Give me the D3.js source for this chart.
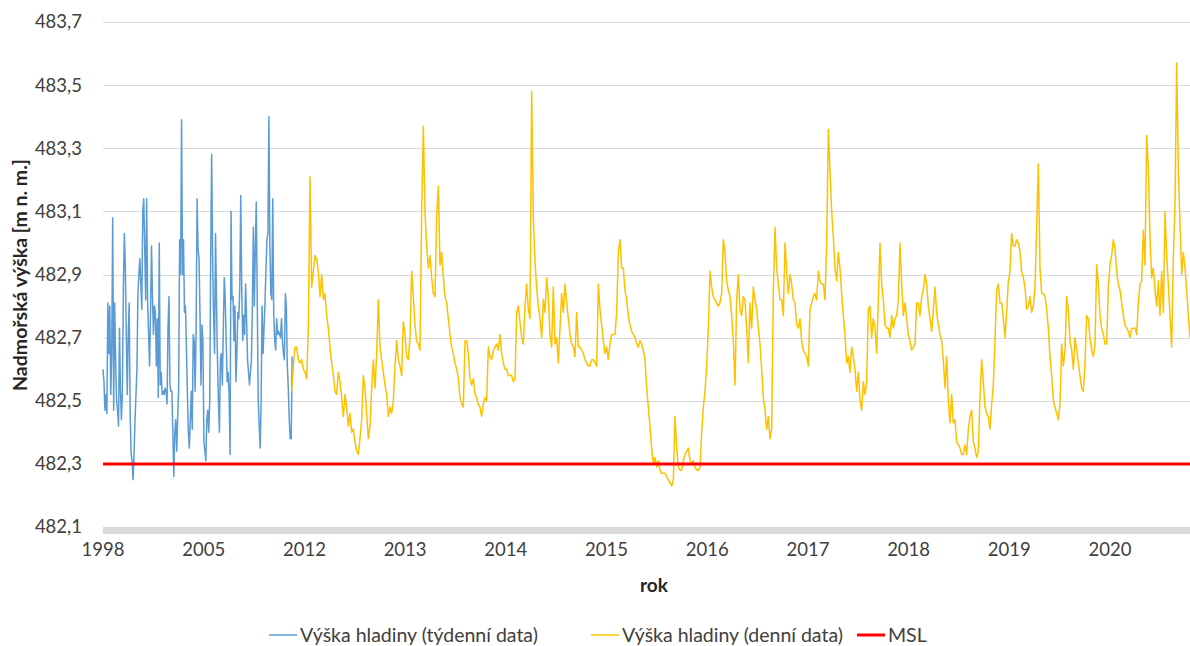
<!DOCTYPE html>
<html>
<head>
<meta charset="utf-8">
<script src="https://cdn.jsdelivr.net/npm/d3@7"></script>
<style>
  body { margin: 0; background: #fff; }
  text { font-family: Lato, "Open Sans", sans-serif; fill: #404040; }
</style>
</head>
<body>
<svg id="chart" width="1190" height="646"></svg>
<script>
// Axis values
const yTicks = [482.1, 482.3, 482.5, 482.7, 482.9, 483.1, 483.3, 483.5, 483.7];
const xLabels = ["1998", "2005", "2012", "2013", "2014", "2015", "2016", "2017", "2018", "2019", "2020"];
const labelEvery = 60.42;      // category slots between two labels
const totalSlots = 652.2;      // category slots on the axis
const weeklyEndSlot = 113.5;   // weekly series is spread over slots 0..this
const dailyStartSlot = 113.2;  // first daily value

const msl = 482.3;

// weekly water level 1998-2011 (blue)
const weekly = [
  482.60, 482.56, 482.47, 482.52, 482.46, 482.81, 482.65, 482.80, 482.52, 482.65,
  483.08, 482.47, 482.81, 482.63, 482.50, 482.47, 482.42, 482.73, 482.53, 482.44,
  482.53, 482.85, 483.03, 482.93, 482.71, 482.52, 482.71, 482.81, 482.46, 482.33,
  482.31, 482.25, 482.33, 482.44, 482.52, 482.60, 482.84, 482.90, 482.95, 482.87,
  482.79, 483.10, 483.14, 482.98, 482.82, 483.14, 482.81, 482.71, 482.61, 482.78,
  482.99, 482.83, 482.71, 482.80, 482.78, 482.61, 482.76, 482.51, 483.00, 482.55,
  482.59, 482.52, 482.53, 482.52, 482.54, 482.53, 482.49, 482.73, 482.83, 482.55,
  482.53, 482.53, 482.40, 482.26, 482.40, 482.44, 482.34, 482.45, 482.54, 483.01,
  482.90, 483.39, 482.90, 483.01, 482.78, 482.80, 482.67, 482.52, 482.40, 482.35,
  482.44, 482.53, 482.41, 482.71, 482.69, 482.53, 482.73, 483.14,
  482.98, 482.95, 482.77, 482.55, 482.74, 482.69, 482.37, 482.34, 482.31, 482.44,
  482.47, 482.40, 482.50, 482.95, 483.28, 482.95, 482.77, 482.65, 483.03, 482.82,
  482.63, 482.50, 482.40, 482.63, 482.65, 482.55, 482.72, 482.89, 482.82, 482.69,
  482.56, 482.59, 482.52, 482.33, 483.10, 482.82, 482.83, 482.69, 482.80, 482.56,
  482.65, 482.78, 482.76, 482.86, 483.15, 482.86, 482.69, 482.77, 482.71, 482.87,
  482.76, 482.63, 482.59, 482.55, 482.59, 482.63, 482.80, 483.05, 482.80, 482.98,
  483.13, 482.82, 482.50, 482.42, 482.35, 482.50, 482.80, 482.65, 482.73, 482.81,
  482.92, 483.01, 483.03, 483.40, 482.99, 482.84, 482.82, 483.14, 482.77, 482.69,
  482.66, 482.76, 482.71, 482.72, 482.71, 482.70, 482.76, 482.69, 482.65, 482.63,
  482.84, 482.80, 482.61, 482.54, 482.44, 482.38, 482.38, 482.64
];

// daily water level 2012-2020 (yellow), sampled
const daily = [
  482.53, 482.61, 482.67, 482.67, 482.63, 482.62, 482.63, 482.60, 482.59, 482.57,
  482.73, 483.21, 482.86, 482.91, 482.96, 482.95, 482.91, 482.83, 482.90, 482.82,
  482.84, 482.77, 482.73, 482.67, 482.62, 482.58, 482.53, 482.52, 482.59, 482.56,
  482.51, 482.45, 482.52, 482.48, 482.42, 482.46, 482.40, 482.41, 482.37, 482.34,
  482.33, 482.38, 482.44, 482.58, 482.54, 482.46, 482.38, 482.42, 482.54, 482.63,
  482.54, 482.65, 482.82, 482.67, 482.63, 482.59, 482.55, 482.52, 482.45, 482.48,
  482.46, 482.50, 482.61, 482.69, 482.63,
  // 2013
  482.61, 482.58, 482.75, 482.71, 482.64, 482.63, 482.70, 482.91, 482.83, 482.74,
  482.69, 482.68, 482.66, 483.10, 483.37, 483.10, 482.99, 482.92, 482.96, 482.89,
  482.84, 482.83, 483.08, 483.18, 482.93, 482.97, 482.89, 482.83, 482.81, 482.76,
  482.71, 482.67, 482.65, 482.62, 482.60, 482.57, 482.51, 482.49, 482.48, 482.69,
  482.69, 482.65, 482.57, 482.55, 482.57, 482.52, 482.51, 482.49, 482.48, 482.45,
  482.49, 482.51, 482.50, 482.67, 482.64, 482.63, 482.66, 482.67, 482.68, 482.66,
  482.71, 482.65, 482.62, 482.60, 482.60, 482.58,
  // 2014
  482.58, 482.58, 482.56, 482.57, 482.78, 482.80, 482.75, 482.70, 482.68, 482.80,
  482.87, 482.79, 482.76, 483.48, 483.08, 482.94, 482.86, 482.80, 482.76, 482.70,
  482.82, 482.78, 482.89, 482.83, 482.71, 482.67, 482.86, 482.68, 482.70, 482.62,
  482.73, 482.84, 482.78, 482.87, 482.81, 482.76, 482.71, 482.68, 482.67, 482.64,
  482.78, 482.67, 482.67, 482.66, 482.65, 482.63, 482.62, 482.61, 482.61, 482.63,
  482.63, 482.62, 482.61, 482.87, 482.79, 482.74, 482.69, 482.65, 482.67, 482.63,
  482.68, 482.71, 482.71, 482.71, 482.78, 482.97,
  // 2015
  483.01, 482.92, 482.92, 482.85, 482.82, 482.77, 482.74, 482.72, 482.71, 482.70,
  482.68, 482.67, 482.69, 482.68, 482.66, 482.63, 482.54, 482.48, 482.42, 482.35,
  482.30, 482.32, 482.29, 482.31, 482.28, 482.27, 482.27, 482.27, 482.26, 482.25,
  482.24, 482.23, 482.25, 482.45, 482.35, 482.29, 482.28, 482.28, 482.31, 482.33,
  482.34, 482.35, 482.31, 482.30, 482.31, 482.29, 482.28, 482.28, 482.29, 482.40,
  482.48, 482.53, 482.61, 482.73, 482.91, 482.86, 482.83, 482.82, 482.81, 482.80,
  482.81, 482.84, 483.01, 482.97, 482.88, 482.85,
  // 2016
  482.83, 482.77, 482.69, 482.55, 482.82, 482.90, 482.79, 482.77, 482.83, 482.82,
  482.73, 482.62, 482.81, 482.73, 482.86, 482.82, 482.79, 482.73, 482.68, 482.60,
  482.51, 482.47, 482.41, 482.45, 482.38, 482.41, 482.85, 483.05, 482.92, 482.87,
  482.82, 482.82, 482.77, 483.00, 482.91, 482.84, 482.90, 482.87, 482.82, 482.81,
  482.74, 482.73, 482.76, 482.69, 482.66, 482.65, 482.64, 482.61, 482.79, 482.81,
  482.83, 482.84, 482.82, 482.91, 482.88, 482.87, 482.87, 482.82, 483.00, 483.36,
  483.23, 483.10, 483.02, 482.92, 482.88, 482.97,
  // 2017
  482.92, 482.84, 482.77, 482.71, 482.62, 482.64, 482.59, 482.67, 482.64, 482.60,
  482.53, 482.59, 482.50, 482.47, 482.56, 482.52, 482.56, 482.79, 482.80, 482.70,
  482.76, 482.73, 482.65, 482.82, 483.00, 482.87, 482.82, 482.74, 482.73, 482.73,
  482.70, 482.77, 482.73, 482.76, 482.77, 482.82, 483.00, 482.87, 482.77, 482.81,
  482.76, 482.71, 482.69, 482.66, 482.67, 482.68, 482.81, 482.81, 482.77, 482.83,
  482.85, 482.90, 482.87, 482.80, 482.76, 482.72, 482.79, 482.86, 482.78, 482.74,
  482.71, 482.69, 482.63, 482.54, 482.64, 482.50,
  // 2018
  482.43, 482.52, 482.43, 482.44, 482.37, 482.36, 482.35, 482.33, 482.33, 482.36,
  482.33, 482.41, 482.45, 482.47, 482.37, 482.35, 482.32, 482.34, 482.51, 482.63,
  482.56, 482.48, 482.46, 482.45, 482.41, 482.49, 482.55, 482.69, 482.85, 482.87,
  482.81, 482.81, 482.76, 482.70, 482.78, 482.88, 482.91, 483.03, 482.99, 482.99,
  483.01, 483.00, 482.97, 482.91, 482.89, 482.86, 482.79, 482.80, 482.83, 482.78,
  482.80, 482.86, 483.05, 483.25, 482.92, 482.84, 482.84, 482.83, 482.79, 482.73,
  482.64, 482.58, 482.50, 482.48, 482.46, 482.44,
  // 2019-2020
  482.49, 482.68, 482.61, 482.66, 482.83, 482.79, 482.69, 482.66, 482.60, 482.70,
  482.66, 482.62, 482.58, 482.54, 482.53, 482.62, 482.77, 482.76, 482.70, 482.66,
  482.64, 482.68, 482.93, 482.87, 482.77, 482.73, 482.71, 482.68, 482.68, 482.86,
  482.93, 482.96, 483.01, 482.98, 482.91, 482.87, 482.85, 482.81, 482.77, 482.74,
  482.73, 482.72, 482.70, 482.73, 482.73, 482.73, 482.71, 482.81, 482.87, 482.88,
  483.04, 482.93, 483.34, 483.24, 483.02, 482.89, 482.92, 482.85, 482.80, 482.88,
  482.77, 482.91, 482.78, 483.10, 482.96, 482.87, 482.77, 482.67, 482.95, 483.12,
  483.57, 483.24, 483.06, 482.90, 482.97, 482.92, 482.85, 482.77, 482.70
];

const legendItems = [
  { label: "Výška hladiny (týdenní data)", color: "#5B9BD5", width: 1.5 },
  { label: "Výška hladiny (denní data)", color: "#FFC000", width: 1.5 },
  { label: "MSL", color: "#FF0000", width: 3 }
];

// Layout
const plotLeft = 103, plotRight = 1190, plotTop = 22, plotBottom = 527;

const svg = d3.select("#chart");

const x = d3.scaleLinear().domain([0, totalSlots]).range([plotLeft, plotRight]);
const y = d3.scaleLinear().domain([482.1, 483.7]).range([plotBottom, plotTop]);

// Gridlines
svg.append("g")
  .selectAll("line")
  .data(yTicks.slice(1))
  .enter()
  .append("line")
  .attr("x1", plotLeft)
  .attr("x2", plotRight)
  .attr("y1", d => Math.round(y(d)) + 0.5)
  .attr("y2", d => Math.round(y(d)) + 0.5)
  .attr("stroke", "#D9D9D9")
  .attr("stroke-width", 1);

// Thick grey baseline (category axis)
svg.append("line")
  .attr("x1", plotLeft)
  .attr("x2", plotRight)
  .attr("y1", y(482.1) + 3.5)
  .attr("y2", y(482.1) + 3.5)
  .attr("stroke", "#D9D9D9")
  .attr("stroke-width", 7);

// Y tick labels
const fmt = d => d.toFixed(1).replace(".", ",");
svg.append("g")
  .selectAll("text")
  .data(yTicks)
  .enter()
  .append("text")
  .attr("x", 82)
  .attr("y", d => y(d))
  .attr("dy", "0.35em")
  .attr("text-anchor", "end")
  .attr("font-size", "18.5px")
  .text(fmt);

// X tick labels
svg.append("g")
  .selectAll("text")
  .data(xLabels)
  .enter()
  .append("text")
  .attr("x", (d, i) => x(i * labelEvery))
  .attr("y", 556)
  .attr("text-anchor", "middle")
  .attr("font-size", "18.5px")
  .text(d => d);

// Axis titles
svg.append("text")
  .attr("x", 654)
  .attr("y", 592)
  .attr("text-anchor", "middle")
  .attr("font-size", "19px")
  .attr("font-weight", "bold")
  .style("fill", "#262626")
  .text("rok");

svg.append("text")
  .attr("transform", "translate(27,275) rotate(-90)")
  .attr("text-anchor", "middle")
  .attr("font-size", "19.5px")
  .attr("font-weight", "bold")
  .style("fill", "#262626")
  .text("Nadmořská výška [m n. m.]");

// Series
const weeklyStep = weeklyEndSlot / (weekly.length - 1);
const line = d3.line().x(d => x(d.slot)).y(d => y(d.v));

svg.append("path")
  .datum(weekly.map((v, i) => ({ slot: i * weeklyStep, v })))
  .attr("fill", "none")
  .attr("stroke", legendItems[0].color)
  .attr("stroke-width", 1.5)
  .attr("stroke-linejoin", "round")
  .attr("d", line);

svg.append("path")
  .datum(daily.map((v, i) => ({ slot: dailyStartSlot + i, v })))
  .attr("fill", "none")
  .attr("stroke", legendItems[1].color)
  .attr("stroke-width", 1.5)
  .attr("stroke-linejoin", "round")
  .attr("d", line);

// MSL
svg.append("line")
  .attr("x1", plotLeft)
  .attr("x2", plotRight)
  .attr("y1", y(msl))
  .attr("y2", y(msl))
  .attr("stroke", legendItems[2].color)
  .attr("stroke-width", 3);

// Legend
const legendX = [269, 591, 857];
const legend = svg.append("g");
legendItems.forEach((item, i) => {
  legend.append("line")
    .attr("x1", legendX[i])
    .attr("x2", legendX[i] + 28)
    .attr("y1", 635)
    .attr("y2", 635)
    .attr("stroke", item.color)
    .attr("stroke-width", item.width);
  legend.append("text")
    .attr("x", legendX[i] + 31)
    .attr("y", 635)
    .attr("dy", "0.35em")
    .attr("font-size", "19.5px")
    .text(item.label);
});
</script>
</body>
</html>
